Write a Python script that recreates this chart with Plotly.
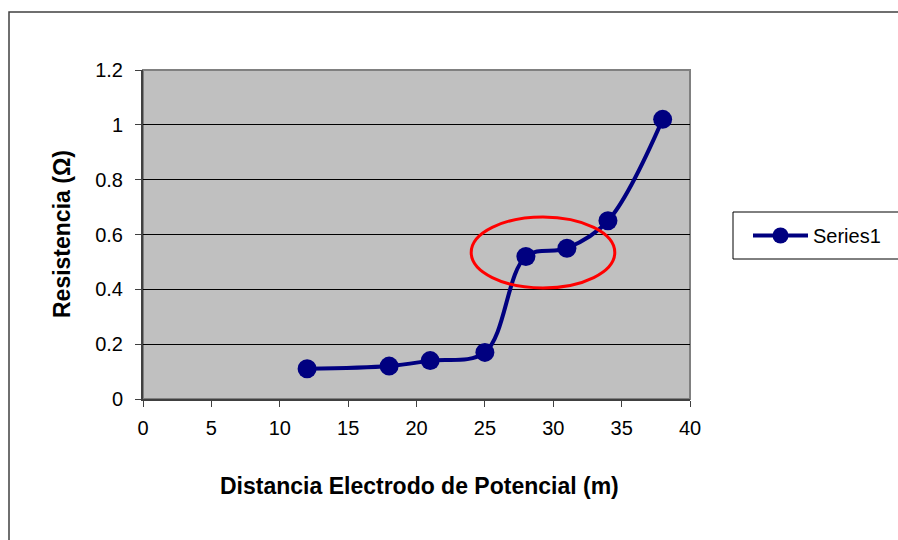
'''
resistencia vs distancia del electrodo de potencial
'''
import plotly.graph_objects as go

distancias = [12, 18, 21, 25, 28, 31, 34, 38]
resistencias = [0.11, 0.12, 0.14, 0.17, 0.52, 0.55, 0.65, 1.02]
serie_nombre = 'Series1'

# zona marcada en rojo (meseta de la curva)
elipse_x = [24.0, 34.5]
elipse_y = [0.405, 0.664]

FONT = 'Liberation Sans, Arial, sans-serif'

PW, PH = 898, 540
L, R, T, B = 143, 690, 70, 399   # plot area in pixels

def px_x(p):
    return (p - L) / (R - L)

def px_y(p):
    return (B - p) / (B - T)

fig = go.Figure()
fig.add_trace(go.Scatter(
    x=distancias, y=resistencias, name=serie_nombre,
    mode='lines+markers', line=dict(color='#000080', width=4, shape='spline', smoothing=1),
    marker=dict(color='#000080', size=19),
))

fig.add_shape(type='circle', xref='x', yref='y',
              x0=elipse_x[0], x1=elipse_x[1], y0=elipse_y[0], y1=elipse_y[1],
              line=dict(color='#FF0000', width=3))
# plot area border
fig.add_shape(type='rect', xref='paper', yref='paper', x0=0, x1=1, y0=0, y1=1,
              line=dict(color='#808080', width=2), layer='below')
# outer chart border (runs off the picture to the right and bottom)
fig.add_shape(type='rect', xref='paper', yref='paper',
              x0=px_x(9), x1=px_x(PW + 20), y0=px_y(PH + 20), y1=px_y(12),
              line=dict(color='#404040', width=1.5))
# legend box
fig.add_shape(type='rect', xref='paper', yref='paper',
              x0=px_x(733), x1=px_x(PW + 20), y0=px_y(259), y1=px_y(212),
              line=dict(color='#000000', width=1))

fig.add_annotation(text='<b>Resistencia (Ω)</b>', xref='paper', yref='paper',
                   x=px_x(62), y=px_y(234), xanchor='center', yanchor='middle',
                   textangle=-90, showarrow=False,
                   font=dict(size=23, color='black', family=FONT))
fig.add_annotation(text='<b>Distancia Electrodo de Potencial (m)</b>', xref='paper', yref='paper',
                   x=px_x(420), y=px_y(486), xanchor='center', yanchor='middle', showarrow=False,
                   font=dict(size=23, color='black', family=FONT))

fig.update_layout(
    width=PW, height=PH,
    margin=dict(l=L, r=PW - R, t=T, b=PH - B, autoexpand=False),
    paper_bgcolor='white', plot_bgcolor='#C0C0C0',
    font=dict(family=FONT, color='black'),
    showlegend=True,
    legend=dict(x=px_x(748), xanchor='left', y=px_y(235.5), yanchor='middle', itemwidth=55,
                bgcolor='rgba(0,0,0,0)', borderwidth=0, font=dict(size=20, family=FONT)),
    xaxis=dict(range=[0, 40], dtick=5, tick0=0, showgrid=False, zeroline=False,
               showline=True, linecolor='#404040', linewidth=2,
               ticks='outside', ticklen=6, tickcolor='#404040', tickwidth=1,
               tickfont=dict(size=20), ticklabelstandoff=4),
    yaxis=dict(range=[0, 1.2], dtick=0.2, tick0=0, showgrid=True, gridcolor='#000000', gridwidth=1,
               zeroline=False, showline=True, linecolor='#404040', linewidth=2,
               ticks='outside', ticklen=6, tickcolor='#404040', tickwidth=1,
               tickfont=dict(size=20), ticklabelstandoff=8),
)

# drop the default page margin so the figure fills the window exactly
fig.write_html('out.html', config={'displayModeBar': False}, post_script=(
    "document.body.style.margin = '0';"
    "document.documentElement.style.overflow = 'hidden';"
))
